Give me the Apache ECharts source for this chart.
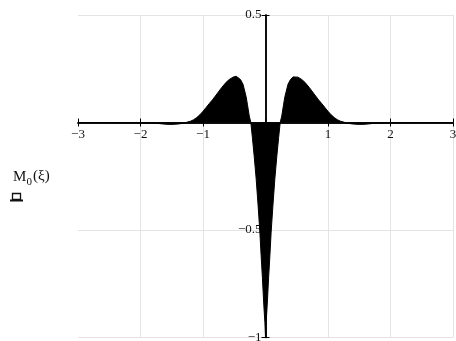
<!DOCTYPE html>
<html>
<head>
<meta charset="utf-8">
<script src="https://cdn.jsdelivr.net/npm/echarts@6/dist/echarts.min.js"></script>
<style>
  html, body { margin: 0; padding: 0; background: #fff; }
  #chart { width: 456px; height: 341px; }
</style>
</head>
<body>
<div id="chart"></div>
<script>
// ξ sample positions and the values of M0(ξ) at each of them
const xi = [
  -3.0, -2.5, -2.0, -1.8, -1.7, -1.6, -1.5, -1.4, -1.3, -1.25, -1.2, -1.15, -1.1, -1.05,
  -1.0, -0.95, -0.9, -0.85, -0.79, -0.7, -0.63, -0.58, -0.52, -0.47, -0.44, -0.4, -0.36,
  -0.31, -0.29, -0.26, -0.235, -0.21, -0.18, -0.15, -0.12, -0.09, -0.07, -0.05, -0.027, -0.01,
  0,
  0.01, 0.027, 0.05, 0.07, 0.09, 0.12, 0.15, 0.18, 0.21, 0.235, 0.26, 0.29, 0.31,
  0.36, 0.4, 0.44, 0.47, 0.52, 0.58, 0.63, 0.7, 0.79, 0.85, 0.9, 0.95, 1.0,
  1.05, 1.1, 1.15, 1.2, 1.25, 1.3, 1.4, 1.5, 1.6, 1.7, 1.8, 2.0, 2.5, 3.0
];
const m0 = [
  0, 0, -0.001, -0.003, -0.005, -0.008, -0.009, -0.007, -0.003, 0.002, 0.006, 0.013, 0.023, 0.036,
  0.052, 0.07, 0.088, 0.105, 0.128, 0.163, 0.187, 0.2, 0.211, 0.215, 0.212, 0.2, 0.178,
  0.12, 0.085, 0.03, 0, -0.07, -0.16, -0.26, -0.38, -0.51, -0.62, -0.72, -0.85, -0.93,
  -1.0,
  -0.93, -0.85, -0.72, -0.62, -0.51, -0.38, -0.26, -0.16, -0.07, 0, 0.03, 0.085, 0.12,
  0.178, 0.2, 0.212, 0.215, 0.211, 0.2, 0.187, 0.163, 0.128, 0.105, 0.088, 0.07, 0.052,
  0.036, 0.023, 0.013, 0.006, 0.002, -0.003, -0.007, -0.009, -0.008, -0.005, -0.003, -0.001, 0, 0
];
// axis ranges and tick steps
const xRange = [-3, 3], xStep = 1;
const yRange = [-1, 0.5], yStep = 0.5;

const points = xi.map((x, i) => [x, m0[i]]);
const serif = '"Liberation Serif", "DejaVu Serif", serif';
const minus = v => (v < 0 ? '\u2212' + Math.abs(v) : String(v));

// plot box
const G = { left: 78, right: 3, top: 15, bottom: 3.5 };
const W = 456, H = 341;
const plotW = W - G.left - G.right, plotH = H - G.top - G.bottom;
// distance from the plot edges to the zero lines, used to slide the label rows onto the axes
const xLabelShift = -plotH * (0 - yRange[0]) / (yRange[1] - yRange[0]);
const yLabelShift = -plotW * (0 - xRange[0]) / (xRange[1] - xRange[0]);

const gridLine = { show: true, lineStyle: { color: '#e4e4e4', width: 1 } };
const axisLine = { show: true, onZero: true, onZeroAxisIndex: 0, lineStyle: { color: '#000', width: 1.5 } };
const tick = inside => ({ show: true, inside: inside, length: 4, lineStyle: { color: '#000', width: 1 } });
const labelFont = { color: '#111', fontFamily: serif, fontSize: 13 };

const xBase = { type: 'value', position: 'bottom', min: xRange[0], max: xRange[1], interval: xStep };
const yBase = { type: 'value', position: 'left', min: yRange[0], max: yRange[1], interval: yStep };

const chart = echarts.init(document.getElementById('chart'), null, { renderer: 'canvas' });
chart.setOption({
  animation: false,
  backgroundColor: '#fff',
  grid: Object.assign({ containLabel: false, outerBoundsMode: 'none' }, G),
  xAxis: [
    // axis line through y = 0 with ticks crossing it
    Object.assign({}, xBase, {
      axisLine: axisLine, axisTick: tick(false), axisLabel: { show: false },
      splitLine: Object.assign({ showMinLine: false }, gridLine)
    }),
    Object.assign({}, xBase, { axisLine: axisLine, axisTick: tick(true), axisLabel: { show: false }, splitLine: { show: false } }),
    // tick labels just under the zero line
    Object.assign({}, xBase, {
      offset: xLabelShift,
      axisLine: { show: false, onZero: false }, axisTick: { show: false }, splitLine: { show: false },
      axisLabel: Object.assign({ show: true, margin: 6, formatter: v => (v === 0 ? '' : minus(v)) }, labelFont)
    })
  ],
  yAxis: [
    Object.assign({}, yBase, { axisLine: axisLine, axisTick: tick(false), axisLabel: { show: false }, splitLine: gridLine }),
    Object.assign({}, yBase, { axisLine: axisLine, axisTick: tick(true), axisLabel: { show: false }, splitLine: { show: false } }),
    Object.assign({}, yBase, {
      offset: yLabelShift,
      axisLine: { show: false, onZero: false }, axisTick: { show: false }, splitLine: { show: false },
      axisLabel: Object.assign({ show: true, margin: 4, formatter: v => (v === 0 ? '' : minus(v)) }, labelFont)
    })
  ],
  series: [{
    type: 'line',
    xAxisIndex: 0, yAxisIndex: 0,
    data: points,
    showSymbol: false,
    smooth: false,
    lineStyle: { color: '#000', width: 1 },
    itemStyle: { color: '#000' },
    areaStyle: { color: '#000', opacity: 1, origin: 0 }
  }],
  graphic: [
    // y-axis title M0(ξ)
    { type: 'text', left: 13, top: 170, style: { text: 'M', font: '15px ' + serif, fill: '#111' } },
    { type: 'text', left: 26.5, top: 177, style: { text: '0', font: '11px ' + serif, fill: '#111' } },
    { type: 'text', left: 33, top: 169, style: { text: '(\u03be)', font: '15px ' + serif, fill: '#111' } },
    // empty placeholder mark under the title
    { type: 'rect', shape: { x: 12.5, y: 193.5, width: 8, height: 6 },
      style: { fill: 'none', stroke: '#111', lineWidth: 1.3 } },
    { type: 'line', shape: { x1: 10, y1: 200.5, x2: 23, y2: 200.5 },
      style: { stroke: '#111', lineWidth: 2 } }
  ]
});
</script>
</body>
</html>
